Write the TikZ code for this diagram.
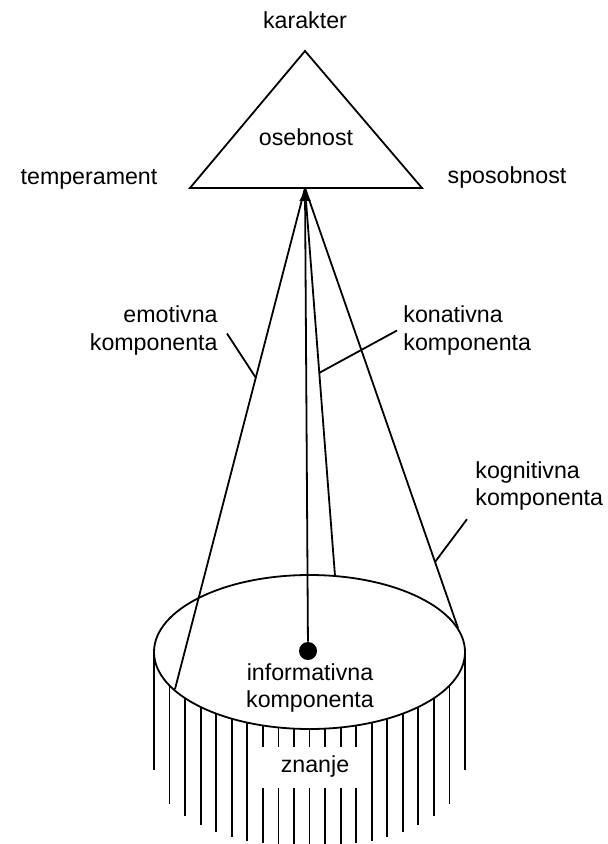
\documentclass[tikz,border=0pt]{standalone}
\usepackage{fontspec}
\setmainfont{Liberation Sans}
\usetikzlibrary{arrows.meta}
\tikzset{
  lbl/.style={font=\fontsize{11.6}{13.5}\selectfont, inner sep=2pt},
  rim/.style={line width=0.9pt, draw=black},
  ray/.style={line width=0.9pt, draw=black},
  pointer/.style={line width=0.9pt, draw=black},
  tick/.style={line width=0.9pt, draw=black}
}

\begin{document}
\begin{tikzpicture}[x=0.5pt, y=-0.5pt]
  \clip (0,0) rectangle (607,844);

  % personality triangle
  \coordinate (top) at (305,51);
  \coordinate (bl) at (190,188);
  \coordinate (br) at (422,188);
  \coordinate (apex) at (305,188);
  \draw[rim] (top) -- (bl) -- (br) -- cycle;
  \node[lbl, anchor=base] (osebnost) at (306,146) {osebnost};
  \node[lbl, anchor=base] (karakter) at (305,29) {karakter};
  \node[lbl, anchor=base] (temperament) at (89,185) {temperament};
  \node[lbl, anchor=base] (sposobnost) at (507,184) {sposobnost};

  % knowledge base
  \draw[rim] (309.5,652) ellipse [x radius=77.75pt, y radius=38.5pt];
  \foreach \k in {0,...,20}{
    \pgfmathsetmacro{\hx}{154+15.55*\k}
    \pgfmathsetmacro{\hy}{652+77*sqrt(max(0,1-((\hx-309.5)/155.5)^2))}
    \pgfmathsetmacro{\hb}{min(\hy+118,850)}
    \pgfmathtruncatemacro{\gap}{and(\k>6,\k<14)}
    \ifnum\gap=1
      \draw[tick] (\hx,\hy) -- (\hx,747);
      \draw[tick] (\hx,788) -- (\hx,\hb);
    \else
      \draw[tick] (\hx,\hy) -- (\hx,\hb);
    \fi
  }
  \node[lbl, anchor=base] (znanje) at (315,772) {znanje};
  \node[lbl, align=center, anchor=base] (informativna) at (310,707) {informativna\\komponenta};

  % components
  \node[circle, fill=black, inner sep=0pt, minimum size=9pt] (dot) at (308,651) {};
  \coordinate (emoEnd) at (175,689);
  \coordinate (konEnd) at (335,576);
  \coordinate (kogEnd) at (458,628);
  \draw[ray, -{Latex[length=6.5pt, width=6pt]}] (dot) -- (apex);
  \draw[ray] (apex) -- (emoEnd);
  \draw[ray] (apex) -- (konEnd);
  \draw[ray] (apex) -- (kogEnd);

  % labels with pointers
  \node[lbl, align=right, anchor=base east] (emotivna) at (222,350) {emotivna\\komponenta};
  \node[lbl, align=left, anchor=base west] (konativna) at (399,350) {konativna\\komponenta};
  \node[lbl, align=left, anchor=base west] (kognitivna) at (471,505) {kognitivna\\komponenta};
  \coordinate (emoMark) at (256,378);
  \coordinate (konMark) at (319,373);
  \coordinate (kogMark) at (435,562);
  \draw[pointer] ([shift={(5,3)}]emotivna.east) -- (emoMark);
  \draw[pointer] ([shift={(-2,0)}]konativna.west) -- (konMark);
  \draw[pointer] ([shift={(-4,5)}]kognitivna.south west) -- (kogMark);
\end{tikzpicture}
\end{document}
